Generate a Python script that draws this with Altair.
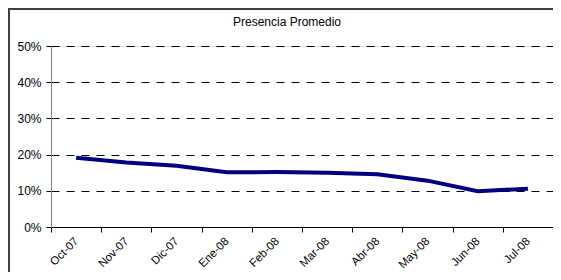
import altair as alt
import pandas as pd

months = ["Oct-07", "Nov-07", "Dic-07", "Ene-08", "Feb-08", "Mar-08", "Abr-08", "May-08", "Jun-08", "Jul-08"]
values = [0.191, 0.178, 0.169, 0.151, 0.152, 0.150, 0.146, 0.128, 0.099, 0.106]
y_ticks = [0, 0.1, 0.2, 0.3, 0.4, 0.5]
title_text = "Presencia Promedio"

df = pd.DataFrame({"mes": months, "valor": values})
FONT = "Liberation Sans"
W, H = 502, 181

base = alt.Chart(df)

line = base.mark_line(color="#000080", strokeWidth=4).encode(
    x=alt.X("mes:N", sort=months, title=None,
            scale=alt.Scale(paddingInner=0, paddingOuter=0),
            axis=alt.Axis(labelAngle=-45, labelAlign="right", labelBaseline="top",
                          labelOffset=-4, tickBand="extent", labelFont=FONT, labelFontSize=11.5,
                          labelColor="#000000", domainColor="#000000", tickColor="#000000",
                          tickSize=5, labelPadding=3, grid=False)),
    y=alt.Y("valor:Q", title=None,
            scale=alt.Scale(domain=[0, 0.5], nice=False),
            axis=alt.Axis(values=y_ticks, format=".0%", labelFont=FONT, labelFontSize=12,
                          labelColor="#000000", domainColor="#808080", tickColor="#000000",
                          tickSize=5, labelPadding=5, grid=True, gridColor="#000000",
                          gridDash=[8, 7], gridWidth=1)),
)

frame = alt.Chart(pd.DataFrame({"a": [0]})).mark_rect(
    fill=None, stroke="#404040", strokeWidth=2
).encode(
    x=alt.value(-42), y=alt.value(-37), x2=alt.value(W + 60), y2=alt.value(H + 80)
)

title = alt.Chart(pd.DataFrame({"t": [title_text]})).mark_text(
    font=FONT, fontSize=12, color="#000000", align="center", baseline="middle"
).encode(
    text="t:N", x=alt.value(236), y=alt.value(-24)
)

chart = alt.layer(frame, line, title).properties(
    width=W, height=H,
    autosize=alt.AutoSizeParams(type="none"),
    padding={"left": 43, "top": 38, "right": 0, "bottom": 45},
).configure_view(stroke=None).configure(background="#ffffff")

chart.save("out.html", embed_options={"renderer": "svg", "actions": False})
